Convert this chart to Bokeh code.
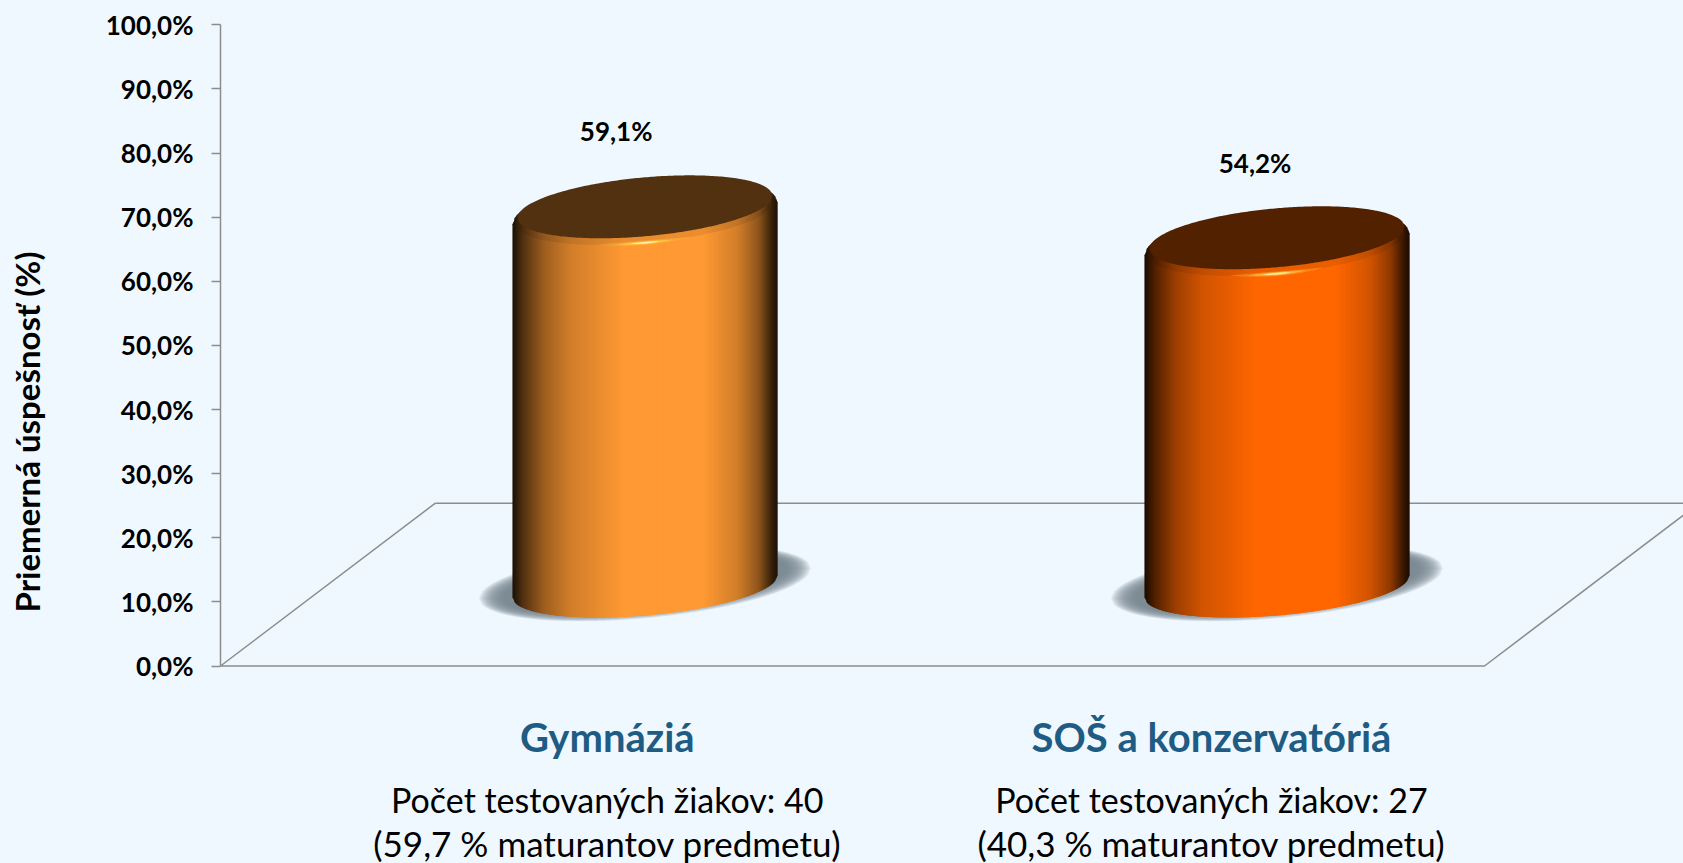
from bokeh.core.properties import value as fixed
from bokeh.embed import file_html
from bokeh.models import FixedTicker, LinearAxis, Range1d
from bokeh.plotting import figure
from bokeh.resources import INLINE

# ---- data ----
categories = ["Gymnáziá", "SOŠ a konzervatóriá"]
values = [59.1, 54.2]
value_labels = ["59,1%", "54,2%"]
count_notes = ["Počet testovaných žiakov: 40", "Počet testovaných žiakov: 27"]
share_notes = ["(59,7 % maturantov predmetu)", "(40,3 % maturantov predmetu)"]
y_ticks = [0, 10, 20, 30, 40, 50, 60, 70, 80, 90, 100]
y_tick_labels = ["0,0%", "10,0%", "20,0%", "30,0%", "40,0%", "50,0%", "60,0%", "70,0%", "80,0%", "90,0%", "100,0%"]
y_title = "Priemerná úspešnosť (%)"

# ---- styles and layout ----
colors = ["#FF9933", "#FF6600"]
BG = "#F0F8FF"
AXIS = "#8C8C8C"
FONT = fixed("Lato")
W, H = 1683, 863
LEFT = 220            # axis position on the page
PX_X, PX_Y = 632.0, 6.412   # pixels per category slot / per percentage point
Y0_PAGE = 665.5       # page row of 0 %
DEPTH_X, DEPTH_Y = 0.34, 25.4   # 3D floor offset
BASE = 12.4           # floor height under the column centre
K = 0.985             # perspective shortening of the columns
LABEL_X = [0.612, 1.568]
VALUE_X = [0.626, 1.637]
VALUE_GAP = 24.3

p = figure(width=W, height=H, frame_width=W - LEFT, frame_height=H,
           min_border_left=LEFT, min_border_right=0, min_border_top=0, min_border_bottom=0,
           x_range=Range1d(0, (W - LEFT) / PX_X),
           y_range=Range1d(-(H - Y0_PAGE) / PX_Y, Y0_PAGE / PX_Y),
           x_axis_location=None, y_axis_location=None,
           output_backend="svg", toolbar_location=None,
           background_fill_color=None, border_fill_color=BG,
           styles={"position": "fixed", "left": "0px", "top": "0px", "background-color": BG})
p.outline_line_color = None
p.grid.visible = False

axis = LinearAxis(bounds=(0, 100), ticker=FixedTicker(ticks=y_ticks),
                  major_label_overrides={t: s for t, s in zip(y_ticks, y_tick_labels)},
                  axis_label=y_title, axis_label_standoff=56)
axis.axis_line_color = AXIS
axis.axis_line_width = 1.5
axis.major_tick_line_color = AXIS
axis.major_tick_line_width = 1.5
axis.major_tick_in = 0
axis.major_tick_out = 9
axis.minor_tick_line_color = None
axis.major_label_standoff = 18
axis.major_label_text_font = "Lato"
axis.major_label_text_font_style = "bold"
axis.major_label_text_font_size = "26px"
axis.major_label_text_color = "#000000"
axis.axis_label_text_font = "Lato"
axis.axis_label_text_font_style = "bold"
axis.axis_label_text_font_size = "33px"
axis.axis_label_text_color = "#000000"
p.add_layout(axis, "left")

# floor of the 3D chart
slots = len(categories)
p.line([DEPTH_X, 0, slots, slots + DEPTH_X], [DEPTH_Y, 0, 0, DEPTH_Y], line_color=AXIS, line_width=1.5)
p.line([DEPTH_X, slots + DEPTH_X], [DEPTH_Y, DEPTH_Y], line_color=AXIS, line_width=1.5)

STOPS = [(0, .10), (.04, .32), (.12, .62), (.22, .82), (.42, 1), (.72, 1), (.85, .82), (.93, .55), (.98, .2), (1, .12)]


def shade(t):
    for (a, fa), (b, fb) in zip(STOPS, STOPS[1:]):
        if t <= b:
            return fa + (fb - fa) * (t - a) / (b - a)
    return STOPS[-1][1]


def mix(hex_color, f):
    rgb = [int(hex_color[i:i + 2], 16) for i in (1, 3, 5)]
    return "#%02x%02x%02x" % tuple(max(0, min(255, round(c * f))) for c in rgb)


def arc(cy, b, s, u, sign):
    return cy + s * u + sign * b * max(0.0, 1 - u * u) ** 0.5


def ellipse_outline(cx, a, cy, b, s, n=120):
    xs, ys = [], []
    for i in range(n + 1):
        u = -1 + 2 * i / n
        xs.append(cx + a * u)
        ys.append(arc(cy, b, s, u, 1))
    for i in range(n + 1):
        u = 1 - 2 * i / n
        xs.append(cx + a * u)
        ys.append(arc(cy, b, s, u, -1))
    return xs, ys


A = 132.5 / PX_X
TILT = 11 / PX_Y
B_TOP = 34 / PX_Y
B_BOT = 29 / PX_Y
N = 132
OVER = 2   # each strip reaches under the next ones, so no seam shows

for k, (val, col) in enumerate(zip(values, colors)):
    cx = k + 0.5 + DEPTH_X / 2 + 1 / PX_X
    top = BASE + K * val

    # soft shadow on the floor
    for i in range(18):
        f = i / 17
        xs, ys = ellipse_outline(cx, (166 - 24 * f) / PX_X, BASE + 0.5, (35 - 9 * f) / PX_Y, 15 / PX_Y)
        p.patch(xs, ys, fill_color="#76828A", fill_alpha=0.12, line_color=None)

    # shaded body, built of narrow upright strips painted left to right
    sx, sy, sc = [], [], []
    rx, ry, rc = [], [], []
    dark_cy = top + 1.0
    dark_a = A * 0.962
    dark_b = 4.6
    for i in range(N):
        j = min(N, i + OVER)
        u0, u1 = -1 + 2 * i / N, -1 + 2 * j / N
        t = (i + 0.5) / N
        c = mix(col, shade(t))
        sx.append([cx + A * u0, cx + A * u1, cx + A * u1, cx + A * u0])
        sy.append([arc(top, B_TOP, TILT, u0, 1), arc(top, B_TOP, TILT, u1, 1),
                   arc(BASE, B_BOT, TILT, u1, -1), arc(BASE, B_BOT, TILT, u0, -1)])
        sc.append(c)
        # rim band directly under the lid
        d0, d1 = u0 * A / dark_a, u1 * A / dark_a
        if abs(d0) < 1 and abs(d1) < 1:
            rx.append([cx + A * u0, cx + A * u1, cx + A * u1, cx + A * u0])
            ry.append([arc(dark_cy, dark_b, TILT, d0, -1), arc(dark_cy, dark_b, TILT, d1, -1),
                        arc(dark_cy, dark_b, TILT, d1, -1) - 1.0, arc(dark_cy, dark_b, TILT, d0, -1) - 1.0])
            rc.append(mix(col, shade(t) * 0.92))
    p.patches(sx, sy, fill_color=sc, line_color=None)
    p.patches(rx, ry, fill_color=rc, line_color=None)

    # highlight on the front of the rim
    for half, thick, light, alpha in [(.36, .36, "#FFC040", .35), (.22, .24, "#FFD850", .55), (.11, .14, "#FFF4B0", .85)]:
        m = 24
        hx, hy = [], []
        for i in range(m + 1):
            u = -half + 2 * half * i / m
            hx.append(cx + A * u)
            hy.append(arc(top, B_TOP, TILT, u, -1) + 0.7 + thick * (1 - (u / half) ** 2))
        for i in range(m + 1):
            u = half - 2 * half * i / m
            hx.append(cx + A * u)
            hy.append(arc(top, B_TOP, TILT, u, -1) + 0.7 - thick * (1 - (u / half) ** 2))
        p.patch(hx, hy, fill_color=light, fill_alpha=alpha, line_color=None)

    # dark lid
    lx, ly = ellipse_outline(cx, dark_a, dark_cy, dark_b, TILT)
    p.patch(lx, ly, fill_color=mix(col, 0.32), line_color=None)

# texts
p.text(VALUE_X, [v + VALUE_GAP for v in values], text=value_labels, text_align="center", text_baseline="middle",
       text_font=FONT, text_font_style="bold", text_font_size="26px", text_color="#000000")
p.text(LABEL_X, [-11.0] * slots, text=categories, text_align="center", text_baseline="alphabetic",
       text_font=FONT, text_font_style="bold", text_font_size="40px", text_color="#1F5C84")
p.text(LABEL_X, [-20.8] * slots, text=count_notes, text_align="center", text_baseline="alphabetic",
       text_font=FONT, text_font_size="34px", text_color="#000000")
p.text(LABEL_X, [-27.6] * slots, text=share_notes, text_align="center", text_baseline="alphabetic",
       text_font=FONT, text_font_size="35px", text_color="#000000")

open("out.html", "w").write(file_html(p, INLINE))
